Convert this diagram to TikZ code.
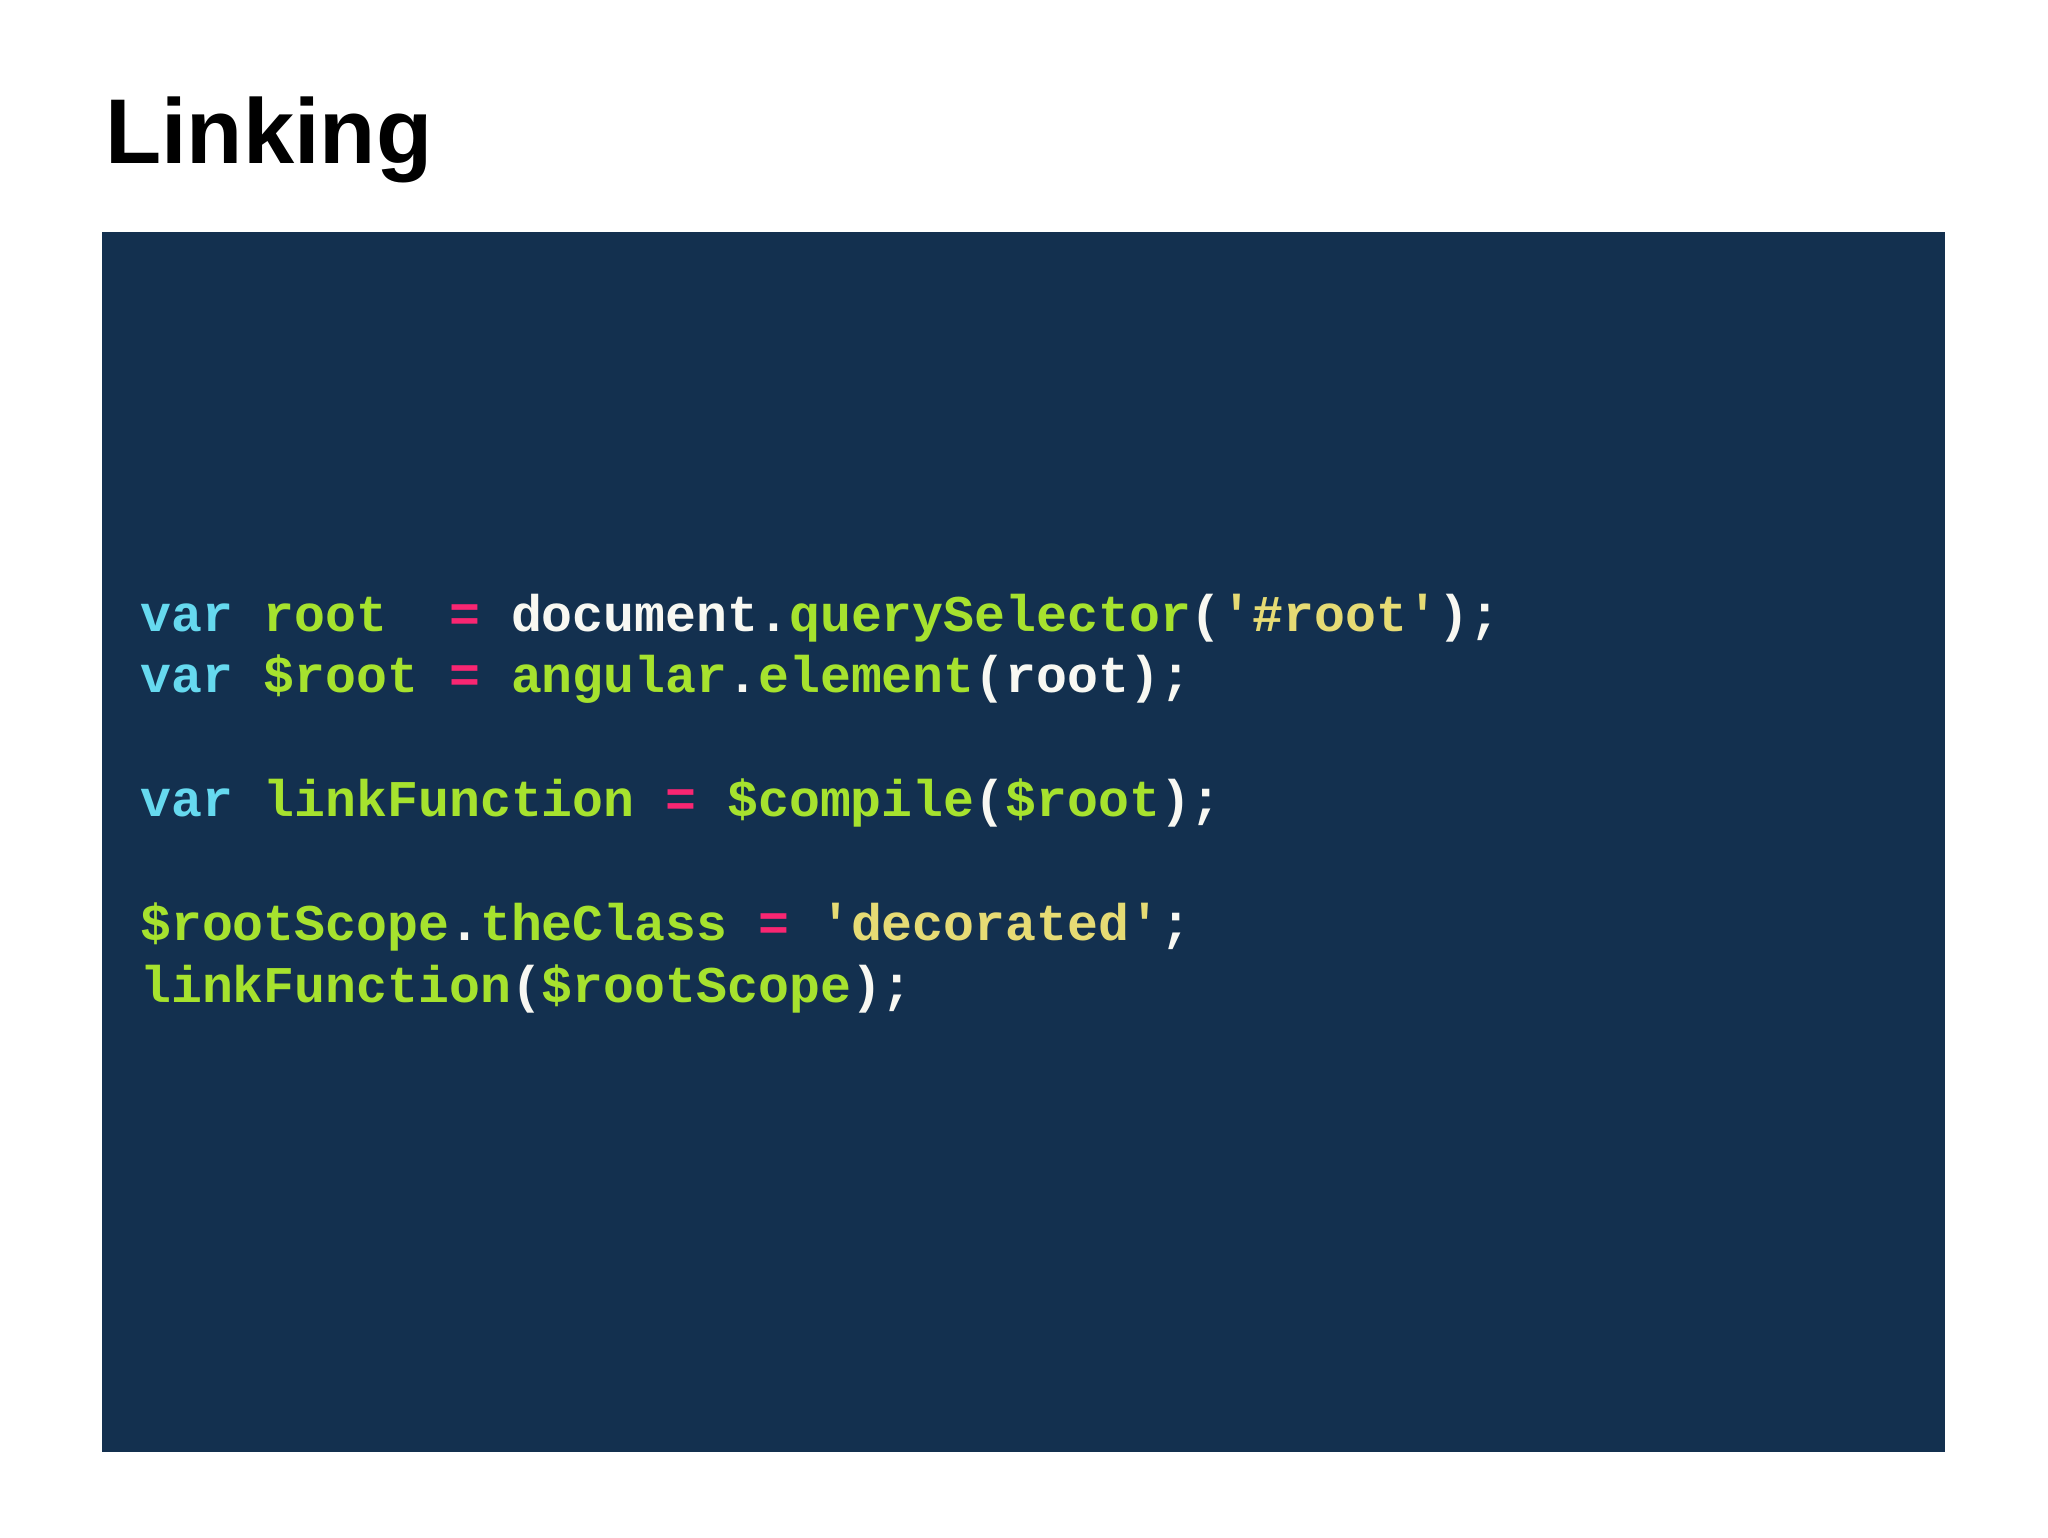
\documentclass[tikz,border=0pt]{standalone}
\usepackage{fontspec}
\setmainfont{Liberation Sans}
\newfontfamily\codefont{Liberation Mono}[BoldFont={* Bold}]
\definecolor{bg}{HTML}{13304F}
\definecolor{kw}{HTML}{66D9EF}
\definecolor{gr}{HTML}{A6E22E}
\definecolor{pk}{HTML}{F92672}
\definecolor{st}{HTML}{E6DB74}
\definecolor{wh}{HTML}{F8F8F2}
\tikzset{codeline/.style={anchor=base west,inner sep=0pt,font=\codefont\bfseries\fontsize{51.5}{60}\selectfont}}
\newcommand{\cK}[1]{\textcolor{kw}{#1}}
\newcommand{\cG}[1]{\textcolor{gr}{#1}}
\newcommand{\cP}[1]{\textcolor{pk}{#1}}
\newcommand{\cY}[1]{\textcolor{st}{#1}}
\newcommand{\cW}[1]{\textcolor{wh}{#1}}
\begin{document}
\begin{tikzpicture}[x=1pt,y=-1pt]
\useasboundingbox (0,0) rectangle (2048,1537);
\fill[white] (0,0) rectangle (2048,1537);
\fill[bg] (102,232) rectangle (1945,1452);
\node[anchor=base west,inner sep=0pt,font=\bfseries\fontsize{92}{100}\selectfont] (title) at (105,163) {Linking};
\node[codeline] (l1) at (140,631) {\cK{var} \cG{root}\ \ \cP{=} \cW{document.}\cG{querySelector}\cW{(}\cY{'\#root'}\cW{);}};
\node[codeline] (l2) at (140,692) {\cK{var} \cG{\$root} \cP{=} \cG{angular}\cW{.}\cG{element}\cW{(root);}};
\node[codeline] (l3) at (140,816) {\cK{var} \cG{linkFunction} \cP{=} \cG{\$compile}\cW{(}\cG{\$root}\cW{);}};
\node[codeline] (l4) at (140,940) {\cG{\$rootScope}\cW{.}\cG{theClass} \cP{=} \cY{'decorated'}\cW{;}};
\node[codeline] (l5) at (140,1002) {\cG{linkFunction}\cW{(}\cG{\$rootScope}\cW{);}};
\end{tikzpicture}
\end{document}
